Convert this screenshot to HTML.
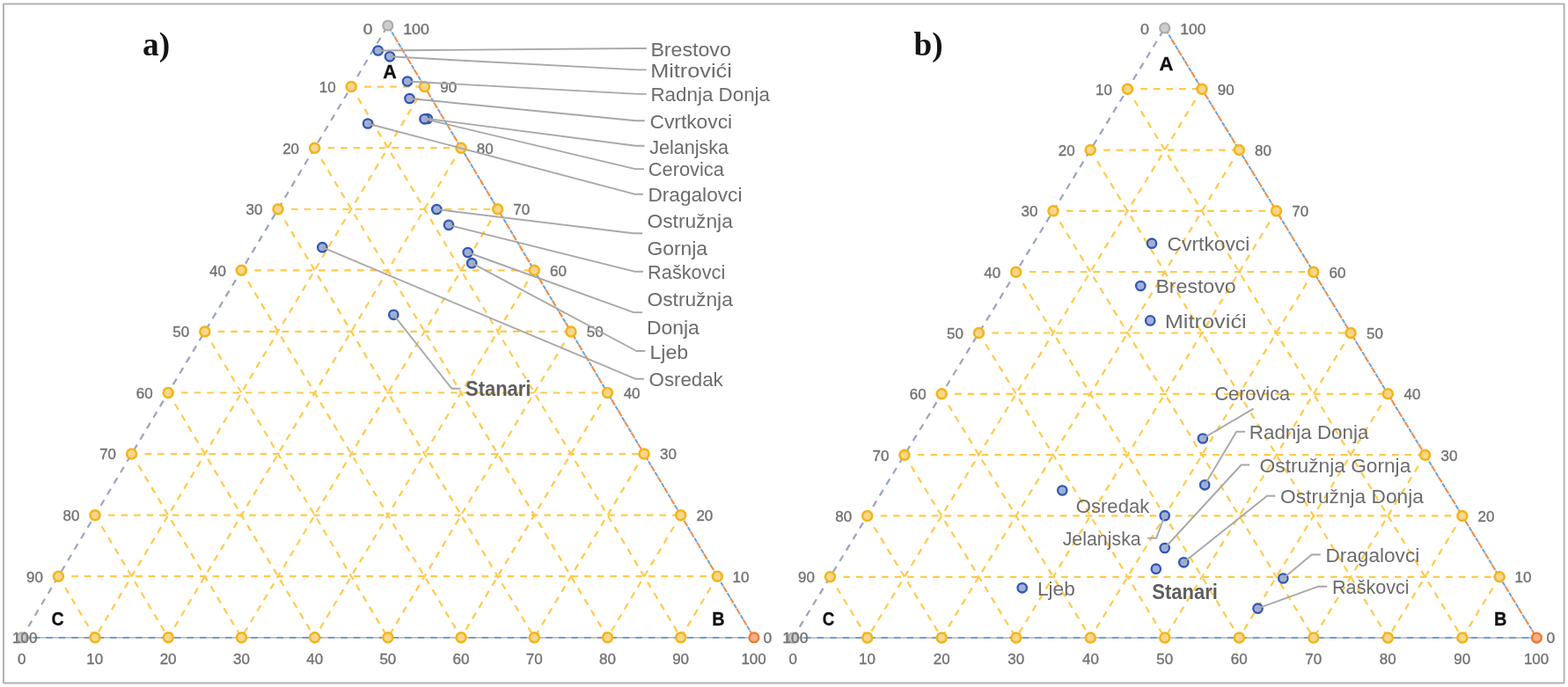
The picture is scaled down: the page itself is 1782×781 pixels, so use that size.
<!DOCTYPE html>
<html lang="sr">
<head>
<meta charset="utf-8">
<title>Ternary diagrams a) and b)</title>
<style>
html,body{margin:0;padding:0;background:#fff;}
body{width:1782px;height:781px;overflow:hidden;}
svg{display:block;filter:blur(0.6px);}
text{font-family:"Liberation Sans",sans-serif;}
.bd{fill:#fff;stroke:#b3b1b2;stroke-width:2;}
.g{stroke:#FFCA4A;stroke-width:2.2;stroke-dasharray:7.6 6.97;fill:none;}
.eL{stroke:#9aa3c0;stroke-width:2.2;stroke-dasharray:7.6 6.97;}
.eRb{stroke:#66a3de;stroke-width:2.0;stroke-dasharray:5.2 9.37;stroke-dashoffset:-8.8;}
.eRo{stroke:#ef8d4a;stroke-width:2.1;stroke-dasharray:7.6 6.97;}
.eBg{stroke:#bebebe;stroke-width:1.7;}
.eBb{stroke:#6397d8;stroke-width:1.8;stroke-dasharray:7.6 6.97;stroke-dashoffset:1.8;}
.ym{fill:#FAD68C;stroke:#F2B517;stroke-width:2.5;}
.bm{fill:#A2AFD8;stroke:#3157AE;stroke-width:2.3;}
.gm{fill:#cdcdcd;stroke:#adadad;stroke-width:2.2;}
.om{fill:#f6b08a;stroke:#ee7a2c;stroke-width:2.3;}
.ld{fill:none;stroke:#A8A8A8;stroke-width:1.9;stroke-linejoin:round;}
.t{fill:#727272;stroke:#727272;stroke-width:0.35;}
.l{fill:#6c6c6c;}
.lb{fill:#5e5e5e;font-weight:bold;}
.k{fill:#0d0d0d;stroke:#0d0d0d;stroke-width:0.3;font-weight:bold;}
.s{fill:#141414;font-weight:bold;font-family:"Liberation Serif",serif;}
</style>
</head>
<body>
<svg width="1782" height="781" viewBox="0 0 1782 781">
<rect class="bd" x="4.0" y="4.6" width="1773.6" height="771.8" rx="0.4"/>
<g>
<line class="g" x1="414.12" y1="98.58" x2="482.41" y2="98.58"/>
<line class="g" x1="474.75" y1="111.39" x2="108.01" y2="724.80"/>
<line class="g" x1="74.06" y1="668.02" x2="108.01" y2="724.80"/>
<line class="g" x1="372.52" y1="168.16" x2="524.02" y2="168.16"/>
<line class="g" x1="516.36" y1="180.97" x2="191.22" y2="724.80"/>
<line class="g" x1="115.66" y1="598.44" x2="191.22" y2="724.80"/>
<line class="g" x1="330.92" y1="237.74" x2="565.63" y2="237.74"/>
<line class="g" x1="557.97" y1="250.55" x2="274.43" y2="724.80"/>
<line class="g" x1="157.26" y1="528.86" x2="274.43" y2="724.80"/>
<line class="g" x1="289.32" y1="307.32" x2="607.24" y2="307.32"/>
<line class="g" x1="599.58" y1="320.13" x2="357.64" y2="724.80"/>
<line class="g" x1="198.86" y1="459.28" x2="357.64" y2="724.80"/>
<line class="g" x1="247.72" y1="376.90" x2="648.85" y2="376.90"/>
<line class="g" x1="641.19" y1="389.71" x2="440.85" y2="724.80"/>
<line class="g" x1="240.46" y1="389.70" x2="440.85" y2="724.80"/>
<line class="g" x1="206.12" y1="446.48" x2="690.46" y2="446.48"/>
<line class="g" x1="682.80" y1="459.29" x2="524.06" y2="724.80"/>
<line class="g" x1="282.06" y1="320.12" x2="524.06" y2="724.80"/>
<line class="g" x1="164.52" y1="516.06" x2="732.07" y2="516.06"/>
<line class="g" x1="724.41" y1="528.87" x2="607.27" y2="724.80"/>
<line class="g" x1="323.66" y1="250.54" x2="607.27" y2="724.80"/>
<line class="g" x1="122.92" y1="585.64" x2="773.68" y2="585.64"/>
<line class="g" x1="766.02" y1="598.45" x2="690.48" y2="724.80"/>
<line class="g" x1="365.26" y1="180.96" x2="690.48" y2="724.80"/>
<line class="g" x1="81.32" y1="655.22" x2="815.29" y2="655.22"/>
<line class="g" x1="807.63" y1="668.03" x2="773.69" y2="724.80"/>
<line class="g" x1="406.86" y1="111.38" x2="773.69" y2="724.80"/>
<line class="eL" x1="24.80" y1="724.80" x2="440.80" y2="29.00"/>
<line class="eRb" x1="440.80" y1="29.00" x2="856.90" y2="724.80"/>
<line class="eRo" x1="440.80" y1="29.00" x2="856.90" y2="724.80"/>
<line class="eBg" x1="24.80" y1="724.80" x2="856.90" y2="724.80"/>
<line class="eBb" x1="24.80" y1="724.80" x2="856.90" y2="724.80"/>
<circle class="ym" cx="399.20" cy="98.58" r="5.5"/>
<circle class="ym" cx="482.41" cy="98.58" r="5.5"/>
<circle class="ym" cx="108.01" cy="724.80" r="5.5"/>
<circle class="ym" cx="357.60" cy="168.16" r="5.5"/>
<circle class="ym" cx="524.02" cy="168.16" r="5.5"/>
<circle class="ym" cx="191.22" cy="724.80" r="5.5"/>
<circle class="ym" cx="316.00" cy="237.74" r="5.5"/>
<circle class="ym" cx="565.63" cy="237.74" r="5.5"/>
<circle class="ym" cx="274.43" cy="724.80" r="5.5"/>
<circle class="ym" cx="274.40" cy="307.32" r="5.5"/>
<circle class="ym" cx="607.24" cy="307.32" r="5.5"/>
<circle class="ym" cx="357.64" cy="724.80" r="5.5"/>
<circle class="ym" cx="232.80" cy="376.90" r="5.5"/>
<circle class="ym" cx="648.85" cy="376.90" r="5.5"/>
<circle class="ym" cx="440.85" cy="724.80" r="5.5"/>
<circle class="ym" cx="191.20" cy="446.48" r="5.5"/>
<circle class="ym" cx="690.46" cy="446.48" r="5.5"/>
<circle class="ym" cx="524.06" cy="724.80" r="5.5"/>
<circle class="ym" cx="149.60" cy="516.06" r="5.5"/>
<circle class="ym" cx="732.07" cy="516.06" r="5.5"/>
<circle class="ym" cx="607.27" cy="724.80" r="5.5"/>
<circle class="ym" cx="108.00" cy="585.64" r="5.5"/>
<circle class="ym" cx="773.68" cy="585.64" r="5.5"/>
<circle class="ym" cx="690.48" cy="724.80" r="5.5"/>
<circle class="ym" cx="66.40" cy="655.22" r="5.5"/>
<circle class="ym" cx="815.29" cy="655.22" r="5.5"/>
<circle class="ym" cx="773.69" cy="724.80" r="5.5"/>
<circle class="gm" cx="440.80" cy="29.00" r="5.5"/>
<circle class="gm" cx="24.80" cy="724.80" r="5.5"/>
<circle class="om" cx="856.90" cy="724.80" r="5.4"/>
<text class="t" x="362.78" y="104.94" font-size="15.8" textLength="18.89" lengthAdjust="spacingAndGlyphs">10</text>
<text class="t" x="500.21" y="104.94" font-size="15.8" textLength="18.89" lengthAdjust="spacingAndGlyphs">90</text>
<text class="t" x="98.25" y="755.06" font-size="15.8" textLength="18.89" lengthAdjust="spacingAndGlyphs">10</text>
<text class="t" x="321.18" y="174.52" font-size="15.8" textLength="18.89" lengthAdjust="spacingAndGlyphs">20</text>
<text class="t" x="541.89" y="174.52" font-size="15.8" textLength="18.89" lengthAdjust="spacingAndGlyphs">80</text>
<text class="t" x="181.68" y="755.06" font-size="15.8" textLength="18.89" lengthAdjust="spacingAndGlyphs">20</text>
<text class="t" x="279.58" y="244.10" font-size="15.8" textLength="18.89" lengthAdjust="spacingAndGlyphs">30</text>
<text class="t" x="583.36" y="244.10" font-size="15.8" textLength="18.89" lengthAdjust="spacingAndGlyphs">70</text>
<text class="t" x="264.99" y="755.06" font-size="15.8" textLength="18.89" lengthAdjust="spacingAndGlyphs">30</text>
<text class="t" x="237.98" y="313.68" font-size="15.8" textLength="18.89" lengthAdjust="spacingAndGlyphs">40</text>
<text class="t" x="624.97" y="313.68" font-size="15.8" textLength="18.89" lengthAdjust="spacingAndGlyphs">60</text>
<text class="t" x="348.33" y="755.06" font-size="15.8" textLength="18.89" lengthAdjust="spacingAndGlyphs">40</text>
<text class="t" x="196.38" y="383.26" font-size="15.8" textLength="18.89" lengthAdjust="spacingAndGlyphs">50</text>
<text class="t" x="666.77" y="383.26" font-size="15.8" textLength="18.89" lengthAdjust="spacingAndGlyphs">50</text>
<text class="t" x="431.40" y="755.06" font-size="15.8" textLength="18.89" lengthAdjust="spacingAndGlyphs">50</text>
<text class="t" x="154.78" y="452.84" font-size="15.8" textLength="18.89" lengthAdjust="spacingAndGlyphs">60</text>
<text class="t" x="708.67" y="452.84" font-size="15.8" textLength="18.89" lengthAdjust="spacingAndGlyphs">40</text>
<text class="t" x="514.51" y="755.06" font-size="15.8" textLength="18.89" lengthAdjust="spacingAndGlyphs">60</text>
<text class="t" x="113.18" y="522.42" font-size="15.8" textLength="18.89" lengthAdjust="spacingAndGlyphs">70</text>
<text class="t" x="750.02" y="522.42" font-size="15.8" textLength="18.89" lengthAdjust="spacingAndGlyphs">30</text>
<text class="t" x="597.72" y="755.06" font-size="15.8" textLength="18.89" lengthAdjust="spacingAndGlyphs">70</text>
<text class="t" x="71.58" y="592.00" font-size="15.8" textLength="18.89" lengthAdjust="spacingAndGlyphs">80</text>
<text class="t" x="791.43" y="592.00" font-size="15.8" textLength="18.89" lengthAdjust="spacingAndGlyphs">20</text>
<text class="t" x="681.00" y="755.06" font-size="15.8" textLength="18.89" lengthAdjust="spacingAndGlyphs">80</text>
<text class="t" x="29.98" y="661.58" font-size="15.8" textLength="18.89" lengthAdjust="spacingAndGlyphs">90</text>
<text class="t" x="832.60" y="661.58" font-size="15.8" textLength="18.89" lengthAdjust="spacingAndGlyphs">10</text>
<text class="t" x="764.18" y="755.06" font-size="15.8" textLength="18.89" lengthAdjust="spacingAndGlyphs">90</text>
<text class="t" x="20.08" y="755.06" font-size="15.8" textLength="9.45" lengthAdjust="spacingAndGlyphs">0</text>
<text class="t" x="842.42" y="755.06" font-size="15.8" textLength="28.34" lengthAdjust="spacingAndGlyphs">100</text>
<text class="t" x="412.65" y="38.80" font-size="15.8" textLength="10.70" lengthAdjust="spacingAndGlyphs">0</text>
<text class="t" x="458.15" y="38.80" font-size="15.8" textLength="29.65" lengthAdjust="spacingAndGlyphs">100</text>
<text class="t" x="14.01" y="730.90" font-size="15.8" textLength="28.36" lengthAdjust="spacingAndGlyphs">100</text>
<text class="t" x="867.61" y="731.20" font-size="15.8" textLength="9.77" lengthAdjust="spacingAndGlyphs">0</text>
</g>
<g>
<circle class="bm" cx="429.70" cy="57.50" r="5.2"/>
<circle class="bm" cx="443.00" cy="64.30" r="5.2"/>
<circle class="bm" cx="463.00" cy="92.50" r="5.2"/>
<circle class="bm" cx="465.50" cy="112.00" r="5.2"/>
<circle class="bm" cx="485.80" cy="135.00" r="5.2"/>
<circle class="bm" cx="482.50" cy="135.30" r="5.2"/>
<circle class="bm" cx="418.00" cy="140.50" r="5.2"/>
<circle class="bm" cx="496.30" cy="238.00" r="5.2"/>
<circle class="bm" cx="510.00" cy="255.80" r="5.2"/>
<circle class="bm" cx="531.70" cy="287.00" r="5.2"/>
<circle class="bm" cx="536.20" cy="299.20" r="5.2"/>
<circle class="bm" cx="366.30" cy="281.20" r="5.2"/>
<circle class="bm" cx="447.30" cy="357.80" r="5.2"/>
<polyline class="ld" points="429.70,57.50 724.60,55.00 734.60,55.00"/>
<polyline class="ld" points="443.00,64.30 724.60,79.40 734.60,79.40"/>
<polyline class="ld" points="463.00,92.50 724.60,106.90 734.60,106.90"/>
<polyline class="ld" points="465.50,112.00 722.80,137.30 732.80,137.30"/>
<polyline class="ld" points="485.80,135.00 722.40,165.80 732.40,165.80"/>
<polyline class="ld" points="482.50,135.30 722.00,192.10 732.00,192.10"/>
<polyline class="ld" points="418.00,140.50 721.00,220.70 731.00,220.70"/>
<polyline class="ld" points="496.30,238.00 720.00,265.30 730.00,265.30"/>
<polyline class="ld" points="510.00,255.80 721.00,308.70 731.00,308.70"/>
<polyline class="ld" points="531.70,287.00 720.00,355.10 730.00,355.10"/>
<polyline class="ld" points="536.20,299.20 723.30,399.00 733.30,399.00"/>
<polyline class="ld" points="366.30,281.20 722.00,430.70 732.00,430.70"/>
<polyline class="ld" points="447.30,357.80 513.30,441.70 523.40,441.70"/>
<text class="l" x="739.40" y="63.70" font-size="22.0" textLength="91.38" lengthAdjust="spacingAndGlyphs">Brestovo</text>
<text class="l" x="739.23" y="87.80" font-size="22.0" textLength="92.58" lengthAdjust="spacingAndGlyphs">Mitrovići</text>
<text class="l" x="739.47" y="115.30" font-size="22.0" textLength="135.55" lengthAdjust="spacingAndGlyphs">Radnja Donja</text>
<text class="l" x="738.44" y="145.50" font-size="22.0" textLength="93.70" lengthAdjust="spacingAndGlyphs">Cvrtkovci</text>
<text class="l" x="738.26" y="174.50" font-size="22.0" textLength="89.84" lengthAdjust="spacingAndGlyphs">Jelanjska</text>
<text class="l" x="736.79" y="200.30" font-size="22.0" textLength="86.01" lengthAdjust="spacingAndGlyphs">Cerovica</text>
<text class="l" x="736.44" y="229.40" font-size="22.0" textLength="106.98" lengthAdjust="spacingAndGlyphs">Dragalovci</text>
<text class="l" x="735.53" y="258.60" font-size="22.0" textLength="97.28" lengthAdjust="spacingAndGlyphs">Ostružnja</text>
<text class="l" x="736.12" y="317.30" font-size="22.0" textLength="88.15" lengthAdjust="spacingAndGlyphs">Raškovci</text>
<text class="l" x="735.53" y="348.40" font-size="22.0" textLength="97.28" lengthAdjust="spacingAndGlyphs">Ostružnja</text>
<text class="l" x="738.40" y="407.80" font-size="22.0" textLength="43.79" lengthAdjust="spacingAndGlyphs">Ljeb</text>
<text class="l" x="737.55" y="438.60" font-size="22.0" textLength="84.23" lengthAdjust="spacingAndGlyphs">Osredak</text>
<text class="l" x="735.46" y="289.50" font-size="22.0" textLength="68.55" lengthAdjust="spacingAndGlyphs">Gornja</text>
<text class="l" x="735.02" y="379.50" font-size="22.0" textLength="59.77" lengthAdjust="spacingAndGlyphs">Donja</text>
<text class="lb" x="529.06" y="449.50" font-size="23.0" textLength="74.40" lengthAdjust="spacingAndGlyphs">Stanari</text>
<text class="k" x="435.16" y="88.70" font-size="22.8" textLength="15.50" lengthAdjust="spacingAndGlyphs">A</text>
<text class="k" x="809.27" y="710.50" font-size="22.8" textLength="14.33" lengthAdjust="spacingAndGlyphs">B</text>
<text class="k" x="58.40" y="710.60" font-size="22.8" textLength="14.13" lengthAdjust="spacingAndGlyphs">C</text>
<text class="s" x="162.00" y="62.50" font-size="37.6" textLength="31.14" lengthAdjust="spacingAndGlyphs">a)</text>
</g>
<g>
<line class="g" x1="1296.37" y1="101.22" x2="1365.97" y2="101.22"/>
<line class="g" x1="1358.20" y1="113.96" x2="985.72" y2="725.10"/>
<line class="g" x1="951.22" y1="668.52" x2="985.72" y2="725.10"/>
<line class="g" x1="1254.12" y1="170.54" x2="1408.24" y2="170.54"/>
<line class="g" x1="1400.47" y1="183.28" x2="1070.24" y2="725.10"/>
<line class="g" x1="993.47" y1="599.20" x2="1070.24" y2="725.10"/>
<line class="g" x1="1211.87" y1="239.86" x2="1450.51" y2="239.86"/>
<line class="g" x1="1442.74" y1="252.60" x2="1154.76" y2="725.10"/>
<line class="g" x1="1035.72" y1="529.88" x2="1154.76" y2="725.10"/>
<line class="g" x1="1169.62" y1="309.18" x2="1492.78" y2="309.18"/>
<line class="g" x1="1485.01" y1="321.92" x2="1239.28" y2="725.10"/>
<line class="g" x1="1077.97" y1="460.56" x2="1239.28" y2="725.10"/>
<line class="g" x1="1127.37" y1="378.50" x2="1535.05" y2="378.50"/>
<line class="g" x1="1527.28" y1="391.24" x2="1323.80" y2="725.10"/>
<line class="g" x1="1120.22" y1="391.24" x2="1323.80" y2="725.10"/>
<line class="g" x1="1085.12" y1="447.82" x2="1577.32" y2="447.82"/>
<line class="g" x1="1569.55" y1="460.56" x2="1408.32" y2="725.10"/>
<line class="g" x1="1162.47" y1="321.92" x2="1408.32" y2="725.10"/>
<line class="g" x1="1042.87" y1="517.14" x2="1619.59" y2="517.14"/>
<line class="g" x1="1611.82" y1="529.88" x2="1492.84" y2="725.10"/>
<line class="g" x1="1204.72" y1="252.60" x2="1492.84" y2="725.10"/>
<line class="g" x1="1000.62" y1="586.46" x2="1661.86" y2="586.46"/>
<line class="g" x1="1654.09" y1="599.20" x2="1577.36" y2="725.10"/>
<line class="g" x1="1246.97" y1="183.28" x2="1577.36" y2="725.10"/>
<line class="g" x1="958.37" y1="655.78" x2="1704.13" y2="655.78"/>
<line class="g" x1="1696.36" y1="668.52" x2="1661.88" y2="725.10"/>
<line class="g" x1="1289.22" y1="113.96" x2="1661.88" y2="725.10"/>
<line class="eL" x1="901.20" y1="725.10" x2="1323.70" y2="31.90"/>
<line class="eRb" x1="1323.70" y1="31.90" x2="1746.40" y2="725.10"/>
<line class="eRo" x1="1323.70" y1="31.90" x2="1746.40" y2="725.10"/>
<line class="eBg" x1="901.20" y1="725.10" x2="1746.40" y2="725.10"/>
<line class="eBb" x1="901.20" y1="725.10" x2="1746.40" y2="725.10"/>
<circle class="ym" cx="1281.45" cy="101.22" r="5.5"/>
<circle class="ym" cx="1365.97" cy="101.22" r="5.5"/>
<circle class="ym" cx="985.72" cy="725.10" r="5.5"/>
<circle class="ym" cx="1239.20" cy="170.54" r="5.5"/>
<circle class="ym" cx="1408.24" cy="170.54" r="5.5"/>
<circle class="ym" cx="1070.24" cy="725.10" r="5.5"/>
<circle class="ym" cx="1196.95" cy="239.86" r="5.5"/>
<circle class="ym" cx="1450.51" cy="239.86" r="5.5"/>
<circle class="ym" cx="1154.76" cy="725.10" r="5.5"/>
<circle class="ym" cx="1154.70" cy="309.18" r="5.5"/>
<circle class="ym" cx="1492.78" cy="309.18" r="5.5"/>
<circle class="ym" cx="1239.28" cy="725.10" r="5.5"/>
<circle class="ym" cx="1112.45" cy="378.50" r="5.5"/>
<circle class="ym" cx="1535.05" cy="378.50" r="5.5"/>
<circle class="ym" cx="1323.80" cy="725.10" r="5.5"/>
<circle class="ym" cx="1070.20" cy="447.82" r="5.5"/>
<circle class="ym" cx="1577.32" cy="447.82" r="5.5"/>
<circle class="ym" cx="1408.32" cy="725.10" r="5.5"/>
<circle class="ym" cx="1027.95" cy="517.14" r="5.5"/>
<circle class="ym" cx="1619.59" cy="517.14" r="5.5"/>
<circle class="ym" cx="1492.84" cy="725.10" r="5.5"/>
<circle class="ym" cx="985.70" cy="586.46" r="5.5"/>
<circle class="ym" cx="1661.86" cy="586.46" r="5.5"/>
<circle class="ym" cx="1577.36" cy="725.10" r="5.5"/>
<circle class="ym" cx="943.45" cy="655.78" r="5.5"/>
<circle class="ym" cx="1704.13" cy="655.78" r="5.5"/>
<circle class="ym" cx="1661.88" cy="725.10" r="5.5"/>
<circle class="gm" cx="1323.70" cy="31.90" r="5.5"/>
<circle class="gm" cx="901.20" cy="725.10" r="5.5"/>
<circle class="om" cx="1746.40" cy="725.10" r="5.4"/>
<text class="t" x="1245.03" y="107.58" font-size="15.8" textLength="18.89" lengthAdjust="spacingAndGlyphs">10</text>
<text class="t" x="1383.77" y="107.58" font-size="15.8" textLength="18.89" lengthAdjust="spacingAndGlyphs">90</text>
<text class="t" x="975.96" y="755.06" font-size="15.8" textLength="18.89" lengthAdjust="spacingAndGlyphs">10</text>
<text class="t" x="1202.78" y="176.90" font-size="15.8" textLength="18.89" lengthAdjust="spacingAndGlyphs">20</text>
<text class="t" x="1426.11" y="176.90" font-size="15.8" textLength="18.89" lengthAdjust="spacingAndGlyphs">80</text>
<text class="t" x="1060.70" y="755.06" font-size="15.8" textLength="18.89" lengthAdjust="spacingAndGlyphs">20</text>
<text class="t" x="1160.53" y="246.22" font-size="15.8" textLength="18.89" lengthAdjust="spacingAndGlyphs">30</text>
<text class="t" x="1468.24" y="246.22" font-size="15.8" textLength="18.89" lengthAdjust="spacingAndGlyphs">70</text>
<text class="t" x="1145.32" y="755.06" font-size="15.8" textLength="18.89" lengthAdjust="spacingAndGlyphs">30</text>
<text class="t" x="1118.28" y="315.54" font-size="15.8" textLength="18.89" lengthAdjust="spacingAndGlyphs">40</text>
<text class="t" x="1510.51" y="315.54" font-size="15.8" textLength="18.89" lengthAdjust="spacingAndGlyphs">60</text>
<text class="t" x="1229.97" y="755.06" font-size="15.8" textLength="18.89" lengthAdjust="spacingAndGlyphs">40</text>
<text class="t" x="1076.03" y="384.86" font-size="15.8" textLength="18.89" lengthAdjust="spacingAndGlyphs">50</text>
<text class="t" x="1552.97" y="384.86" font-size="15.8" textLength="18.89" lengthAdjust="spacingAndGlyphs">50</text>
<text class="t" x="1314.35" y="755.06" font-size="15.8" textLength="18.89" lengthAdjust="spacingAndGlyphs">50</text>
<text class="t" x="1033.78" y="454.18" font-size="15.8" textLength="18.89" lengthAdjust="spacingAndGlyphs">60</text>
<text class="t" x="1595.53" y="454.18" font-size="15.8" textLength="18.89" lengthAdjust="spacingAndGlyphs">40</text>
<text class="t" x="1398.77" y="755.06" font-size="15.8" textLength="18.89" lengthAdjust="spacingAndGlyphs">60</text>
<text class="t" x="991.53" y="523.50" font-size="15.8" textLength="18.89" lengthAdjust="spacingAndGlyphs">70</text>
<text class="t" x="1637.54" y="523.50" font-size="15.8" textLength="18.89" lengthAdjust="spacingAndGlyphs">30</text>
<text class="t" x="1483.29" y="755.06" font-size="15.8" textLength="18.89" lengthAdjust="spacingAndGlyphs">70</text>
<text class="t" x="949.28" y="592.82" font-size="15.8" textLength="18.89" lengthAdjust="spacingAndGlyphs">80</text>
<text class="t" x="1679.61" y="592.82" font-size="15.8" textLength="18.89" lengthAdjust="spacingAndGlyphs">20</text>
<text class="t" x="1567.88" y="755.06" font-size="15.8" textLength="18.89" lengthAdjust="spacingAndGlyphs">80</text>
<text class="t" x="907.03" y="662.14" font-size="15.8" textLength="18.89" lengthAdjust="spacingAndGlyphs">90</text>
<text class="t" x="1721.44" y="662.14" font-size="15.8" textLength="18.89" lengthAdjust="spacingAndGlyphs">10</text>
<text class="t" x="1652.37" y="755.06" font-size="15.8" textLength="18.89" lengthAdjust="spacingAndGlyphs">90</text>
<text class="t" x="896.48" y="755.06" font-size="15.8" textLength="9.45" lengthAdjust="spacingAndGlyphs">0</text>
<text class="t" x="1731.92" y="755.06" font-size="15.8" textLength="28.34" lengthAdjust="spacingAndGlyphs">100</text>
<text class="t" x="1296.00" y="39.40" font-size="15.8" textLength="10.01" lengthAdjust="spacingAndGlyphs">0</text>
<text class="t" x="1341.17" y="39.40" font-size="15.8" textLength="29.22" lengthAdjust="spacingAndGlyphs">100</text>
<text class="t" x="889.26" y="731.20" font-size="15.8" textLength="29.33" lengthAdjust="spacingAndGlyphs">100</text>
<text class="t" x="1757.61" y="731.20" font-size="15.8" textLength="9.77" lengthAdjust="spacingAndGlyphs">0</text>
</g>
<g>
<circle class="bm" cx="1309.00" cy="276.70" r="5.2"/>
<circle class="bm" cx="1296.30" cy="325.00" r="5.2"/>
<circle class="bm" cx="1307.20" cy="364.40" r="5.2"/>
<circle class="bm" cx="1366.90" cy="498.50" r="5.2"/>
<circle class="bm" cx="1369.20" cy="551.30" r="5.2"/>
<circle class="bm" cx="1323.70" cy="623.00" r="5.2"/>
<circle class="bm" cx="1345.30" cy="639.30" r="5.2"/>
<circle class="bm" cx="1207.30" cy="557.50" r="5.2"/>
<circle class="bm" cx="1323.70" cy="586.20" r="5.2"/>
<circle class="bm" cx="1161.70" cy="668.30" r="5.2"/>
<circle class="bm" cx="1458.30" cy="657.50" r="5.2"/>
<circle class="bm" cx="1429.50" cy="691.70" r="5.2"/>
<circle class="bm" cx="1313.80" cy="646.70" r="5.2"/>
<polyline class="ld" points="1366.90,498.50 1424.50,464.60"/>
<polyline class="ld" points="1369.20,551.30 1405.20,490.80 1415.00,490.80"/>
<polyline class="ld" points="1323.70,623.00 1410.60,528.50 1420.20,528.50"/>
<polyline class="ld" points="1345.30,639.30 1440.00,563.70 1449.20,563.70"/>
<polyline class="ld" points="1323.70,586.20 1314.20,611.70 1304.20,611.70"/>
<polyline class="ld" points="1458.30,657.50 1490.80,630.50 1500.80,630.50"/>
<polyline class="ld" points="1429.50,691.70 1498.30,666.70 1508.30,666.70"/>
<text class="l" x="1326.64" y="285.10" font-size="22.0" textLength="93.70" lengthAdjust="spacingAndGlyphs">Cvrtkovci</text>
<text class="l" x="1313.40" y="332.90" font-size="22.0" textLength="91.28" lengthAdjust="spacingAndGlyphs">Brestovo</text>
<text class="l" x="1323.72" y="372.90" font-size="22.0" textLength="92.99" lengthAdjust="spacingAndGlyphs">Mitrovići</text>
<text class="l" x="1380.39" y="454.70" font-size="22.0" textLength="85.70" lengthAdjust="spacingAndGlyphs">Cerovica</text>
<text class="l" x="1419.87" y="499.10" font-size="22.0" textLength="135.45" lengthAdjust="spacingAndGlyphs">Radnja Donja</text>
<text class="l" x="1431.63" y="537.10" font-size="22.0" textLength="171.68" lengthAdjust="spacingAndGlyphs">Ostružnja Gornja</text>
<text class="l" x="1455.13" y="571.70" font-size="22.0" textLength="162.67" lengthAdjust="spacingAndGlyphs">Ostružnja Donja</text>
<text class="l" x="1222.76" y="582.90" font-size="22.0" textLength="83.52" lengthAdjust="spacingAndGlyphs">Osredak</text>
<text class="l" x="1207.66" y="619.60" font-size="22.0" textLength="89.04" lengthAdjust="spacingAndGlyphs">Jelanjska</text>
<text class="l" x="1178.94" y="677.10" font-size="22.0" textLength="42.82" lengthAdjust="spacingAndGlyphs">Ljeb</text>
<text class="l" x="1506.45" y="639.20" font-size="22.0" textLength="106.77" lengthAdjust="spacingAndGlyphs">Dragalovci</text>
<text class="l" x="1514.03" y="675.40" font-size="22.0" textLength="87.63" lengthAdjust="spacingAndGlyphs">Raškovci</text>
<text class="lb" x="1309.36" y="680.80" font-size="23.0" textLength="74.60" lengthAdjust="spacingAndGlyphs">Stanari</text>
<text class="k" x="1317.45" y="80.00" font-size="22.8" textLength="15.93" lengthAdjust="spacingAndGlyphs">A</text>
<text class="k" x="1697.96" y="711.10" font-size="22.8" textLength="14.44" lengthAdjust="spacingAndGlyphs">B</text>
<text class="k" x="934.63" y="710.60" font-size="22.8" textLength="13.58" lengthAdjust="spacingAndGlyphs">C</text>
<text class="s" x="1038.52" y="62.60" font-size="37.6" textLength="33.13" lengthAdjust="spacingAndGlyphs">b)</text>
</g>
</svg>
</body>
</html>
